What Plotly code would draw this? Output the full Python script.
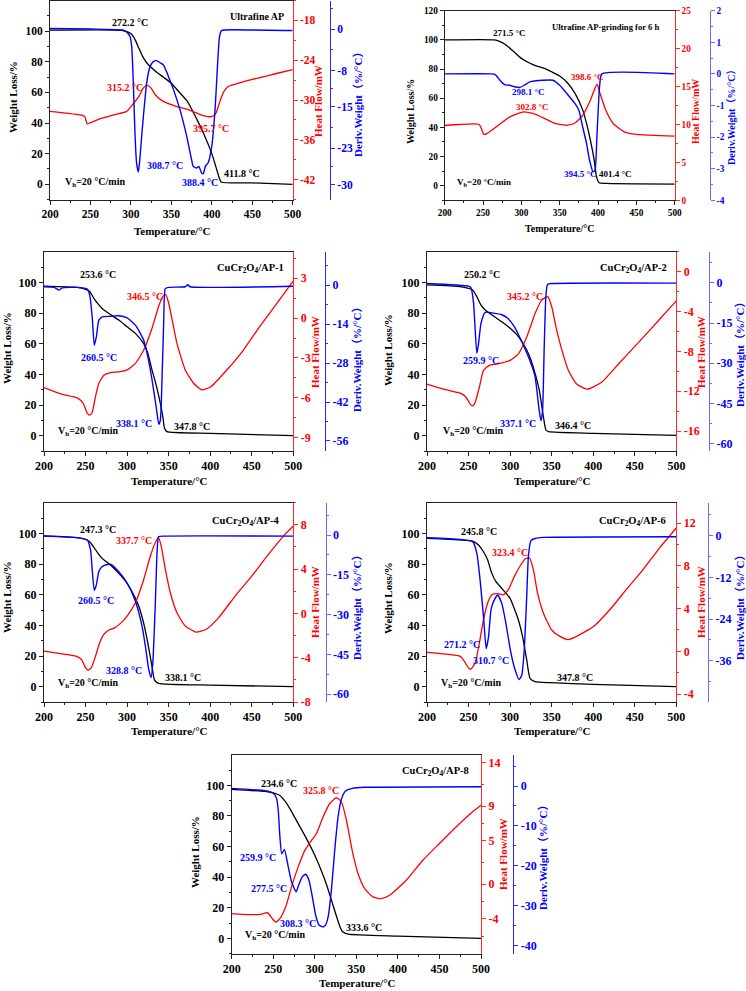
import plotly.graph_objects as go

W, H = 746, 991

# ---------------- data: panel 1 (Ultrafine AP) ----------------
p1_w_t = [200, 290, 300, 305, 310, 315, 320, 330, 340, 350, 360, 370, 380, 390, 400, 405, 410, 412, 450, 500]
p1_w = [100.6, 100.4, 98.5, 94.6, 88.7, 83, 79, 74, 70, 66, 60, 54, 44, 33, 20, 11.5, 3, 1.3, 0.9, 0]
p1_h_t = [200, 240, 243, 246, 250, 260, 280, 295, 300, 310, 315.2, 320, 325, 330, 340, 350, 360, 370, 380, 390, 400, 405, 410, 415, 420, 450, 480, 500]
p1_h = [-31.7, -32.3, -32.5, -33.6, -33.4, -32.9, -32.2, -31.7, -31, -29.4, -28.2, -27.8, -28.2, -29.2, -30.2, -30.7, -31.1, -31.4, -31.9, -32.4, -32.5, -32, -30.2, -28.7, -28, -26.9, -26, -25.4]
p1_d_t = [200, 250, 290, 295, 299, 301, 303, 305, 307, 309.2, 311, 313, 315.4, 319.5, 323.6, 327.7, 331.9, 336, 340, 344, 348, 352, 360.7, 369, 375, 377, 381, 384, 387.5, 389.5, 392, 395.5, 400, 404, 407, 409.5, 412, 450, 500]
p1_d = [0.1, 0.0, -0.2, -0.6, -1.5, -3.4, -10.4, -20, -25.8, -27.6, -25.2, -21.3, -16.9, -10.4, -7.3, -6.3, -6.1, -6.5, -6.9, -8.2, -9.8, -11.4, -15.6, -20.7, -25.2, -26.5, -26.8, -26.5, -27.8, -27.9, -26.5, -25.8, -22.6, -15.6, -7.2, -1.5, -0.3, -0.2, -0.3]

# ---------------- panel 2 (Ultrafine AP-grinding for 6 h) ----------------
p2_w_t = [200, 265, 271.5, 280, 290, 300, 310, 320, 330, 340, 350, 360, 370, 380, 385, 390, 395, 398, 401.4, 410, 500]
p2_w = [100, 100, 99, 96.5, 92, 87.3, 84.3, 82, 80.5, 78, 75.2, 70.6, 63.3, 52, 42.7, 31.3, 17.6, 6.2, 2, 1.6, 1.1]
p2_h_t = [200, 245, 248, 251, 255, 270, 285, 300, 302.8, 315, 330, 345, 360, 370, 380, 390, 398.6, 402, 410, 420, 435, 450, 500]
p2_h = [9.86, 10, 9.4, 8.7, 8.8, 9.9, 11, 11.6, 11.66, 11.45, 10.8, 10.1, 9.9, 10.2, 11.2, 13.2, 15.3, 14.3, 11.9, 10.1, 9, 8.7, 8.45]
p2_d_t = [200, 260, 266, 272, 278, 285, 290, 298, 305, 311, 328, 341, 350, 363, 370, 375, 380, 385, 389, 393.5, 396, 398.7, 402, 405, 500]
p2_d = [0, 0, -0.02, -0.2, -0.34, -0.36, -0.4, -0.43, -0.34, -0.25, -0.2, -0.2, -0.36, -0.73, -0.94, -1.15, -1.68, -2.2, -2.74, -3.1, -3.05, -1.9, -0.4, 0, 0]

# ---------------- panel 3 (CuCr2O4/AP-1) ----------------
p3_w_t = [200, 240, 250, 255, 260, 265, 270, 280, 290, 300, 310, 320, 325, 330, 335, 340, 343, 345, 347.8, 400, 500]
p3_w = [97.6, 96.7, 95.4, 94, 89.6, 86, 83, 79, 75.4, 71, 66.7, 60, 53.7, 42.8, 33, 21, 12.4, 4.8, 2.6, 1.5, 0]
p3_h_t = [200, 220, 240, 247, 252, 255, 258, 262, 266, 272, 280, 290, 300, 310, 320, 330, 338, 343, 346.5, 350, 355, 360, 370, 380, 390, 400, 420, 440, 460, 480, 500]
p3_h = [-5.23, -5.7, -6, -6.4, -7.15, -7.3, -7.1, -5.9, -4.9, -4.3, -4.1, -4.05, -3.9, -3.4, -2.4, -0.76, 0.9, 1.64, 1.77, 1.14, -0.38, -1.9, -3.9, -4.9, -5.4, -5.2, -3.9, -2.4, -0.6, 1.1, 2.8]
p3_d_t = [200, 212, 218, 222, 240, 252, 255, 258, 260.5, 263, 266, 270, 280, 290, 300, 310, 320, 325, 330, 335, 338.1, 340, 342, 344, 346, 350, 370, 373, 376, 500]
p3_d = [-0.6, -0.8, -1.8, -1, -0.8, -1.4, -3.6, -11.4, -21.6, -18.6, -12.6, -11.4, -11.2, -11, -11.8, -14.4, -19.8, -25.8, -34, -43.8, -50, -48.6, -34, -13.8, -1.2, -0.8, -0.6, 0.1, -0.6, -0.4]

# ---------------- panel 4 (CuCr2O4/AP-2) ----------------
p4_w_t = [200, 240, 250, 255, 260, 265, 270, 280, 290, 300, 310, 320, 325, 330, 335, 340, 343, 346.4, 400, 500]
p4_w = [98.3, 97.2, 96, 95, 90.6, 85.2, 82, 78, 74.3, 70, 64.6, 55.9, 49.3, 40.6, 29.8, 12.4, 3.7, 2.6, 1.5, 0.2]
p4_h_t = [200, 220, 240, 247, 252, 255, 258, 263, 268, 275, 285, 300, 310, 320, 330, 338, 345.2, 350, 355, 360, 370, 380, 393, 410, 430, 450, 470, 490, 500]
p4_h = [-11.28, -11.8, -12.2, -12.6, -13.3, -13.47, -13.1, -11.6, -9.9, -9.4, -9.26, -8.9, -8.25, -6.57, -4.2, -2.86, -2.5, -3.5, -5.5, -7.2, -9.9, -11.28, -11.8, -11.1, -9.3, -7.5, -5.7, -3.84, -2.93]
p4_d_t = [200, 250, 253, 256, 259.9, 262, 265, 270, 280, 290, 297, 305, 315, 325, 330, 335, 337.1, 339, 341, 343, 345, 350, 500]
p4_d = [-0.25, -1.25, -1.9, -7.5, -26.3, -22.6, -15, -11, -11.3, -11.9, -13.2, -16.3, -22.6, -30, -35, -47.7, -51.4, -47.7, -23.8, -5, -0.6, -0.25, -0.1]

# ---------------- panel 5 (CuCr2O4/AP-4) ----------------
p5_w_t = [200, 240, 250, 255, 260, 265, 270, 280, 290, 300, 310, 315, 320, 325, 330, 333, 338.1, 400, 500]
p5_w = [98.3, 97.2, 96, 94.6, 90.9, 87, 83.7, 79.3, 73.9, 67.4, 57.6, 51, 41.3, 28.3, 13, 4.3, 2.2, 1, 0]
p5_h_t = [200, 220, 240, 245, 250, 253, 257, 262, 267, 272, 278, 285, 292, 300, 310, 320, 328, 334, 337.7, 341, 346, 352, 360, 370, 383, 395, 410, 430, 450, 470, 490, 500]
p5_h = [-3.4, -3.64, -3.9, -4.16, -4.9, -5.12, -4.9, -3.86, -2.65, -1.9, -1.5, -1.3, -0.9, -0.24, 0.96, 3.07, 5.18, 6.4, 6.84, 6.1, 4, 1.87, 0.06, -1.14, -1.69, -1.45, -0.4, 1.57, 3.37, 5.33, 7.14, 7.9]
p5_d_t = [200, 240, 252, 256, 258, 260.5, 263, 266, 270, 275, 280, 290, 300, 310, 318, 322, 326, 328.8, 331, 334, 336, 338, 345, 500]
p5_d = [-0.4, -1, -1.9, -5.6, -13, -20.9, -18.8, -13.8, -11.9, -11.2, -11, -13.8, -18.1, -25, -34.4, -41.9, -50.6, -53.8, -48, -25.6, -6.9, -0.6, -0.4, -0.4]

# ---------------- panel 6 (CuCr2O4/AP-6) ----------------
p6_w_t = [200, 240, 255, 262, 268, 273, 278, 283, 290, 300, 305, 310, 315, 320, 324, 330, 347.8, 400, 500]
p6_w = [96.7, 95.7, 95, 92.4, 88, 82.6, 73.9, 68.5, 64.1, 57.6, 51, 43.5, 32.6, 17.4, 5.4, 3.3, 2.6, 1.5, 0]
p6_h_t = [200, 240, 245, 250, 253, 258, 263, 268, 273, 278, 285, 292, 298, 305, 312, 318, 323.4, 328, 333, 340, 350, 360, 370, 380, 400, 420, 440, 460, 480, 500]
p6_h = [-0.1, -0.47, -0.94, -1.56, -1.65, -1.1, 0.78, 2.97, 4.53, 5.3, 5.4, 5.3, 5.8, 7, 8, 8.66, 8.75, 7.66, 5.47, 3.6, 2, 1.4, 1.1, 1.4, 2.3, 3.9, 5.8, 7.66, 9.7, 11.56]
p6_d_t = [200, 240, 255, 260, 264, 268, 271.2, 274, 277, 280, 285, 290, 295, 300, 305, 310.7, 314, 317, 320, 322, 325, 330, 340, 500]
p6_d = [-0.6, -1.1, -1.7, -5.1, -13, -23.4, -32.5, -29.2, -21.4, -19, -17.1, -19.5, -25.3, -32.5, -37.8, -41.4, -40.2, -33, -17.6, -6, -1.4, -0.8, -0.5, -0.3]

# ---------------- panel 7 (CuCr2O4/AP-8) ----------------
p7_w_t = [200, 240, 250, 258, 265, 270, 280, 290, 300, 310, 315, 320, 325, 330, 333.6, 340, 400, 500]
p7_w = [97.4, 96, 95, 93.3, 89, 84.8, 75, 65.2, 54.3, 41.3, 33.7, 25, 16.3, 8, 4.3, 2.8, 1.5, 0]
p7_h_t = [200, 220, 235, 243, 248, 253, 258, 265, 272, 280, 288, 295, 302, 310, 318, 325.8, 332, 338, 345, 352, 360, 370, 380, 390, 410, 430, 450, 470, 490, 500]
p7_h = [-3.38, -3.5, -3.46, -3.27, -3.85, -4.35, -3.96, -2.6, -0.3, 2, 3.9, 4.9, 5.85, 7.77, 9.3, 9.96, 9.5, 7.4, 3.9, 1.23, -0.5, -1.46, -1.65, -1.27, 0.46, 2.77, 4.7, 6.6, 8.35, 9.1]
p7_d_t = [200, 240, 250, 254, 256, 258, 260.2, 263.4, 268, 272, 277.5, 280.6, 285, 289, 293, 297, 301, 305, 309.6, 313, 316, 320, 324, 328, 332, 337, 345, 360, 500]
p7_d = [-0.6, -1.2, -1.8, -3.1, -6, -12.7, -17, -15.9, -20.2, -24, -26.5, -24.8, -22.7, -22.1, -23.6, -27.7, -32.3, -34.8, -35.3, -34.8, -32.8, -26, -16, -7.7, -3.3, -1.25, -0.6, -0.33, -0.17]

# ---------------- tick labels ----------------
x_ticks = [200, 250, 300, 350, 400, 450, 500]
w_ticks = [0, 20, 40, 60, 80, 100]
w_ticks_p2 = [0, 20, 40, 60, 80, 100, 120]
red_ticks = [
    [-18, -24, -30, -36, -42],
    [0, 5, 10, 15, 20, 25],
    [3, 0, -3, -6, -9],
    [0, -4, -8, -12, -16],
    [8, 4, 0, -4, -8],
    [12, 8, 4, 0, -4],
    [14, 9, 5, 0, -4],
]
blue_ticks = [
    [0, -8, -15, -23, -30],
    [2, 1, 0, -1, -2, -3, -4],
    [0, -14, -28, -42, -56],
    [0, -15, -30, -45, -60],
    [0, -15, -30, -45, -60],
    [0, -12, -24, -36, -48],
    [0, -10, -20, -30, -40],
]
red_minor = [
    [-15, -21, -27, -33, -39, -45],
    [2.5, 7.5, 12.5, 17.5, 22.5],
    [4.5, 1.5, -1.5, -4.5, -7.5],
    [2, -2, -6, -10, -14],
    [10, 6, 2, -2, -6],
    [14, 10, 6, 2, -2],
    [11.5, 7, 2.5, -2, -6],
]
blue_minor = [
    [4, -4, -11.5, -19, -26.5],
    [1.5, 0.5, -0.5, -1.5, -2.5, -3.5],
    [7, -7, -21, -35, -49],
    [7.5, -7.5, -22.5, -37.5, -52.5],
    [7.5, -7.5, -22.5, -37.5, -52.5],
    [6, -6, -18, -30, -42],
    [5, -5, -15, -25, -35],
]

series = [
    (p1_w_t, p1_w, p1_h_t, p1_h, p1_d_t, p1_d),
    (p2_w_t, p2_w, p2_h_t, p2_h, p2_d_t, p2_d),
    (p3_w_t, p3_w, p3_h_t, p3_h, p3_d_t, p3_d),
    (p4_w_t, p4_w, p4_h_t, p4_h, p4_d_t, p4_d),
    (p5_w_t, p5_w, p5_h_t, p5_h, p5_d_t, p5_d),
    (p6_w_t, p6_w, p6_h_t, p6_h, p6_d_t, p6_d),
    (p7_w_t, p7_w, p7_h_t, p7_h, p7_d_t, p7_d),
]

# ---------------- layout geometry (pixels) ----------------
geom = [
    dict(L=50, R=292.7, T=0.5, B=199.6, blue=330, red_rng=[-45, -15], blue_rng=[-32.9, 5.5], tick=11.5, ttl=11, ann=10, head=10, bluec='#2a2aff'),
    dict(L=444.7, R=674.7, T=10.7, B=200.3, blue=709.7, red_rng=[0, 25], blue_rng=[-4, 2], tick=9.3, ttl=10, ann=9, head=8.6, bluec='#6a6aff'),
    dict(L=44, R=293.3, T=251.7, B=451, blue=325, red_rng=[-10, 5], blue_rng=[-59.6, 12], tick=12, ttl=11, ann=10, head=10.5, bluec='#2a2aff'),
    dict(L=427, R=676.4, T=251.7, B=451, blue=709, red_rng=[-18, 2], blue_rng=[-62.7, 11.6], tick=12, ttl=11, ann=10, head=10.5, bluec='#6a6aff'),
    dict(L=44, R=293.3, T=502.7, B=702, blue=325.7, red_rng=[-8, 10], blue_rng=[-63, 12.2], tick=12, ttl=11, ann=10, head=10.5, bluec='#6a6aff'),
    dict(L=427, R=676.3, T=502.7, B=702, blue=708, red_rng=[-4.75, 13.93], blue_rng=[-47.9, 9.5], tick=12, ttl=11, ann=10, head=10.5, bluec='#6a6aff'),
    dict(L=231.7, R=481, T=754.7, B=953.7, blue=513.3, red_rng=[-8, 14.92], blue_rng=[-42, 7.84], tick=12, ttl=11, ann=10, head=10.5, bluec='#2a2aff'),
]

FONT = "Liberation Serif, Times New Roman, Noto Sans CJK SC, serif"
BLACK, RED, BLUE = '#000000', '#ff0000', '#0000ff'


def fx(px):
    return px / W


def fy(py):
    return 1 - py / H


def tt(vals):
    return [str(v) for v in vals]


fig = go.Figure()
layout = dict(template='none', width=W, height=H, autosize=False, margin=dict(l=0, r=0, t=0, b=0, pad=0),
              paper_bgcolor='white', plot_bgcolor='rgba(0,0,0,0)', showlegend=False,
              font=dict(family=FONT, weight='bold', color=BLACK))

for i, (g, s) in enumerate(zip(geom, series)):
    n = i + 1
    xa = f'x{n}' if n > 1 else 'x'
    yl_n, yr_n, yb_n = 3 * i + 1, 3 * i + 2, 3 * i + 3
    yl = 'y' if yl_n == 1 else f'y{yl_n}'
    yr, yb = f'y{yr_n}', f'y{yb_n}'
    wt, wv, ht, hv, dt, dv = s
    fig.add_trace(go.Scatter(x=wt, y=wv, xaxis=xa, yaxis=yl, mode='lines', hoverinfo='skip',
                             line=dict(color=BLACK, width=1.3, shape='spline', smoothing=0.5)))
    fig.add_trace(go.Scatter(x=ht, y=hv, xaxis=xa, yaxis=yr, mode='lines', hoverinfo='skip',
                             line=dict(color=RED, width=1.3, shape='spline', smoothing=0.5)))
    fig.add_trace(go.Scatter(x=dt, y=dv, xaxis=xa, yaxis=yb, mode='lines', hoverinfo='skip',
                             line=dict(color=BLUE, width=1.4, shape='spline', smoothing=0.5)))

    tf = lambda c: dict(family=FONT, size=g['tick'], color=c, weight='bold')
    xdom = [fx(g['L']), fx(g['R'])]
    ydom = [fy(g['B']), fy(g['T'])]
    common = dict(automargin=False, showgrid=False, zeroline=False, showline=True, linewidth=1,
                  ticks='outside', ticklen=4, tickwidth=1, fixedrange=True)
    layout['xaxis' if n == 1 else f'xaxis{n}'] = dict(
        common, domain=xdom, anchor=yl, range=[200, 500], linecolor='#222',
        mirror=True, tickcolor='#222', tickvals=x_ticks, ticktext=tt(x_ticks), tickfont=tf(BLACK),
        minor=dict(tickvals=[225, 275, 325, 375, 425, 475], ticks='outside', ticklen=2, tickcolor='#222'))
    wtk = w_ticks_p2 if n == 2 else w_ticks
    layout['yaxis' if yl_n == 1 else f'yaxis{yl_n}'] = dict(
        common, domain=ydom, anchor=xa, range=[-10, 120], linecolor='#222',
        tickcolor='#222', tickvals=wtk, ticktext=tt(wtk), tickfont=tf(BLACK),
        minor=dict(tickvals=[-10, 10, 30, 50, 70, 90, 110], ticks='outside', ticklen=2, tickcolor='#222'))
    layout[f'yaxis{yr_n}'] = dict(
        common, domain=ydom, anchor=xa, overlaying=yl, side='right', range=g['red_rng'],
        linecolor='#ff2a2a', tickcolor='#ff2a2a', tickvals=red_ticks[i], ticktext=tt(red_ticks[i]),
        tickfont=tf(RED),
        minor=dict(tickvals=red_minor[i], ticks='outside', ticklen=2, tickcolor='#ff2a2a'))
    layout[f'yaxis{yb_n}'] = dict(
        common, domain=ydom, anchor='free', position=fx(g['blue']), overlaying=yl, side='right',
        range=g['blue_rng'], linecolor=g['bluec'], tickcolor=g['bluec'], tickvals=blue_ticks[i],
        ticktext=tt(blue_ticks[i]), tickfont=tf(BLUE),
        minor=dict(tickvals=blue_minor[i], ticks='outside', ticklen=2, tickcolor=g['bluec']))

fig.update_layout(**layout)

# ---------------- text annotations (pixel positions) ----------------
deriv_title = 'Deriv.Weight（%/°C）'
titles = [  # (left, red, blue, xtitle) centers
    ((13, 97), (318, 101), (358, 102), (172, 231)),
    ((410, 112), (695, 112), (731, 115), (560, 228)),
    ((7, 348), (315, 352), (357, 357), (169, 481)),
    ((388, 350), (701, 352), (740, 352), (552, 481)),
    ((7, 597), (315, 602), (357, 605), (169, 731)),
    ((388, 598), (701, 602), (740, 605), (552, 731)),
    ((195, 852), (503, 854), (543, 855), (357, 983)),
]

labels = [
    [('272.2 °C', 130, 22, BLACK), ('Ultrafine AP', 257, 17, BLACK, 'head'), ('315.2 °C', 125, 87, RED),
     ('395.7 °C', 211, 128, RED), ('308.7 °C', 165, 165, BLUE), ('388.4 °C', 200, 183, BLUE),
     ('411.8 °C', 242, 173, BLACK), ('V<sub>h</sub>=20 °C/min', 95, 182, BLACK)],
    [('Ultrafine AP-grinding for 6 h', 605, 27, BLACK, 'head'), ('271.5 °C', 509, 33, BLACK),
     ('398.6 °C', 587, 77, RED), ('298.1 °C', 528, 92, BLUE), ('302.8 °C', 532, 107, RED),
     ('394.5 °C', 580, 174, BLUE), ('401.4 °C', 615, 174, BLACK), ('V<sub>b</sub>=20 °C/min', 484, 182, BLACK)],
    [('CuCr<sub>2</sub>O<sub>4</sub>/AP-1', 250, 268, BLACK, 'head'), ('253.6 °C', 98, 275, BLACK),
     ('346.5 °C', 145, 296, RED), ('260.5 °C', 99, 357, BLUE), ('338.1 °C', 134, 423, BLUE),
     ('347.8 °C', 192, 426, BLACK), ('V<sub>h</sub>=20 °C/min', 88, 432, BLACK)],
    [('CuCr<sub>2</sub>O<sub>4</sub>/AP-2', 633, 268, BLACK, 'head'), ('250.2 °C', 482, 275, BLACK),
     ('345.2 °C', 525, 296, RED), ('259.9 °C', 481, 360, BLUE), ('337.1 °C', 518, 423, BLUE),
     ('346.4 °C', 573, 425, BLACK), ('V<sub>h</sub>=20 °C/min', 473, 432, BLACK)],
    [('CuCr<sub>2</sub>O<sub>4</sub>/AP-4', 246, 521, BLACK, 'head'), ('247.3 °C', 98, 529, BLACK),
     ('337.7 °C', 134, 540, RED), ('260.5 °C', 96, 600, BLUE), ('328.8 °C', 124, 670, BLUE),
     ('338.1 °C', 183, 677, BLACK), ('V<sub>h</sub>=20 °C/min', 88, 683, BLACK)],
    [('CuCr<sub>2</sub>O<sub>4</sub>/AP-6', 632, 521, BLACK, 'head'), ('245.8 °C', 479, 531, BLACK),
     ('323.4 °C', 510, 552, RED), ('271.2 °C', 462, 644, BLUE), ('310.7 °C', 491, 660, BLUE),
     ('347.8 °C', 575, 677, BLACK), ('V<sub>h</sub>=20 °C/min', 471, 683, BLACK)],
    [('CuCr<sub>2</sub>O<sub>4</sub>/AP-8', 436, 771, BLACK, 'head'), ('234.6 °C', 279, 783, BLACK),
     ('325.8 °C', 321, 790, RED), ('259.9 °C', 258, 857, BLUE), ('277.5 °C', 269, 888, BLUE),
     ('308.3 °C', 298, 923, BLUE), ('333.6 °C', 364, 927, BLACK), ('V<sub>h</sub>=20 °C/min', 275, 935, BLACK)],
]

anns = []
for i, g in enumerate(geom):
    (lx, ly), (rx, ry), (bx, by), (tx, ty) = titles[i]
    for text, x, y, col, ang in [('Weight Loss/%', lx, ly, BLACK, -90), ('Heat Flow/mW', rx, ry, RED, -90),
                                 (deriv_title, bx, by, BLUE, -90), ('Temperature/°C', tx, ty, BLACK, 0)]:
        anns.append(dict(text=text, x=fx(x), y=fy(y), xref='paper', yref='paper', showarrow=False,
                         textangle=ang, xanchor='center', yanchor='middle',
                         font=dict(family=FONT, size=g['ttl'], color=col, weight='bold')))
    for lab in labels[i]:
        text, x, y, col = lab[:4]
        size = g['head'] if len(lab) > 4 else g['ann']
        anns.append(dict(text=text, x=fx(x), y=fy(y), xref='paper', yref='paper', showarrow=False,
                         xanchor='center', yanchor='middle',
                         font=dict(family=FONT, size=size, color=col, weight='bold')))

fig.update_layout(annotations=anns)
fig.write_html("out.html", config={'displayModeBar': False, 'staticPlot': True},
               post_script="document.body.style.margin='0';document.body.style.overflow='hidden';")
